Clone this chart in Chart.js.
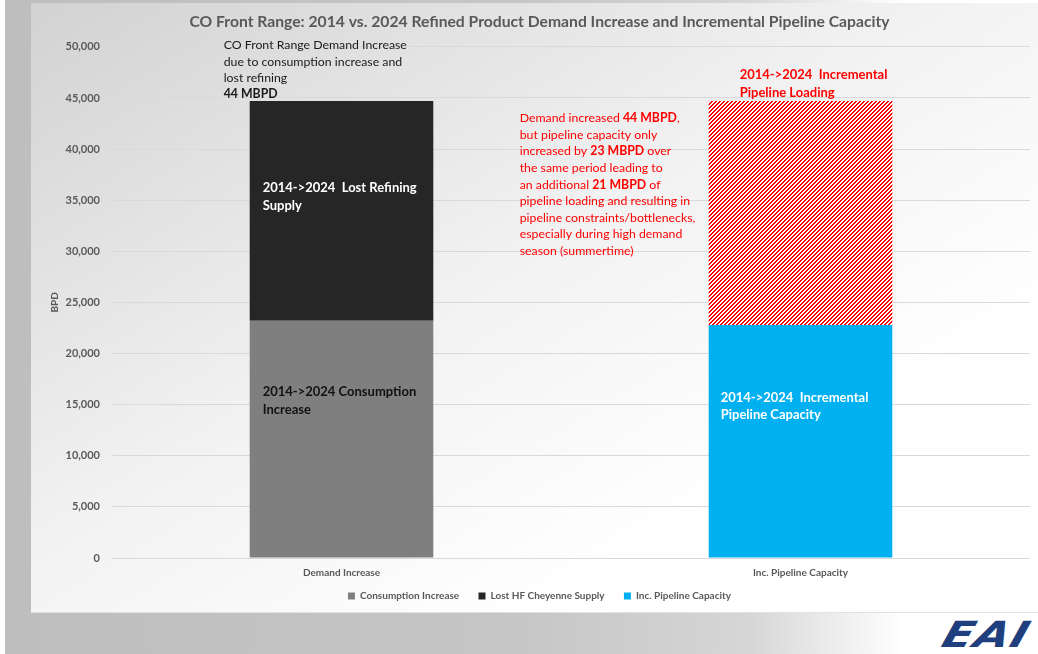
<!DOCTYPE html>
<html>
<head>
<meta charset="utf-8">
<title>CO Front Range Demand vs Pipeline Capacity</title>
<script src="https://cdn.jsdelivr.net/npm/chart.js@4.4.1/dist/chart.umd.min.js"></script>
<style>
    html, body { margin: 0; padding: 0; width: 1038px; height: 654px; overflow: hidden; background: #fff; }
    #frame {
        position: absolute; left: 5px; top: 0; width: 1033px; height: 654px;
        background: linear-gradient(to right, #bebebe 0%, #c6c6c6 50%, #d6d6d6 72%, #ffffff 87%);
    }
    #panel {
        position: absolute; left: 31px; top: 3px; width: 1007px; height: 609px;
        background: linear-gradient(to bottom right, #d2d2d2 0%, #f2f2f2 45%, #ffffff 75%);
        border-bottom: 1px solid #e2e2e2;
    }
    #logo {
        position: absolute; left: 950px; top: 614px;
        font: italic 900 36px "DejaVu Sans", sans-serif; letter-spacing: 1px;
        color: #1f3f7e; transform: scaleX(1.25) skewX(-14deg); transform-origin: left top;
    }
    #grafico { position: absolute; left: 0; top: 0; }
</style>
</head>
<body>
<div id="frame"></div>
<div id="panel"></div>
<div id="logo">EAI</div>
<canvas id="grafico" width="1038" height="654"></canvas>

<script>
// ------------------------------------------------------------
// Dados (BPD)
// ------------------------------------------------------------
const categorias = ["Demand Increase", "Inc. Pipeline Capacity"];
const consumoIncremento = [23200, null];
const refinoPerdido = [21500, null];
const capacidadeDuto = [null, 22800];
const cargaDuto = [null, 21900];
const eixoMax = 50000;
const eixoPasso = 5000;

const FONTE = "Lato, 'Open Sans', sans-serif";
const CINZA_TXT = "#595959";
const VERMELHO = "#ff0000";

const canvas = document.getElementById("grafico");
const ctx = canvas.getContext("2d");

// hachura vermelha/branca em diagonal
function hachura() {
    const c = document.createElement("canvas");
    c.width = 4; c.height = 4;
    const g = c.getContext("2d");
    g.fillStyle = "#ffffff";
    g.fillRect(0, 0, 4, 4);
    g.fillStyle = VERMELHO;
    for (let x = 0; x < 4; x++)
        for (let y = 0; y < 4; y++)
            if ((x + y) % 4 < 2) g.fillRect(x, y, 1, 1);
    return ctx.createPattern(c, "repeat");
}

// escreve uma linha com trechos normais e em negrito
function linhaRica(c, partes, x, y, tam, cor) {
    let cx = x;
    partes.forEach(p => {
        const txt = typeof p === "string" ? p : p.b;
        c.font = (typeof p === "string" ? "" : "bold ") + tam + "px " + FONTE;
        c.fillStyle = cor;
        c.fillText(txt, cx, y);
        cx += c.measureText(txt).width;
    });
}

// caixas de texto ancoradas nas barras / escala
const notas = [
    { barra: 0, dx: -26, valor: 50150, lh: 16.3, tam: 12.3, cor: "#1a1a1a", linhas: [
        ["CO Front Range Demand Increase"],
        ["due to consumption increase and"],
        ["lost refining"],
        [{ b: "44 MBPD" }]
    ]},
    { barra: 0, dx: 13, valor: 36250, lh: 18, tam: 13, cor: "#ffffff", linhas: [
        [{ b: "2014->2024  Lost Refining" }],
        [{ b: "Supply" }]
    ]},
    { barra: 0, dx: 13, valor: 16250, lh: 18, tam: 13, cor: "#111111", linhas: [
        [{ b: "2014->2024 Consumption" }],
        [{ b: "Increase" }]
    ]},
    { barra: 1, dx: 12, valor: 15660, lh: 17, tam: 13, cor: "#ffffff", linhas: [
        [{ b: "2014->2024  Incremental" }],
        [{ b: "Pipeline Capacity" }]
    ]},
    { barra: 1, dx: 31, valor: 47230, lh: 18, tam: 13, cor: VERMELHO, linhas: [
        [{ b: "2014->2024  Incremental" }],
        [{ b: "Pipeline Loading" }]
    ]},
    { barra: 1, dx: -189, valor: 43010, lh: 16.6, tam: 12.3, cor: VERMELHO, linhas: [
        ["Demand increased ", { b: "44 MBPD" }, ","],
        ["but pipeline capacity only"],
        ["increased by ", { b: "23 MBPD" }, " over"],
        ["the same period leading to"],
        ["an additional ", { b: "21 MBPD" }, " of"],
        ["pipeline loading and resulting in"],
        ["pipeline constraints/bottlenecks,"],
        ["especially during high demand"],
        ["season (summertime)"]
    ]}
];

const pluginNotas = {
    id: "notas",
    afterDatasetsDraw(chart) {
        const c = chart.ctx;
        const y = chart.scales.y;
        const demanda = chart.getDatasetMeta(0).data[0];
        const duto = chart.getDatasetMeta(2).data[1];
        c.save();
        c.textBaseline = "middle";
        c.textAlign = "left";
        notas.forEach(n => {
            const el = n.barra === 0 ? demanda : duto;
            const x0 = el.x - el.width / 2 + n.dx;
            const y0 = y.getPixelForValue(n.valor);
            n.linhas.forEach((l, i) => linhaRica(c, l, x0, y0 + i * n.lh, n.tam, n.cor));
        });
        c.restore();
    }
};

// legenda padrão, com um respiro extra entre os itens
const legendaPadrao = Chart.defaults.plugins.legend.labels.generateLabels;

new Chart(ctx, {
    type: "bar",
    data: {
        labels: categorias,
        datasets: [
            { label: "Consumption Increase", data: consumoIncremento, backgroundColor: "#7f7f7f" },
            { label: "Lost HF Cheyenne Supply", data: refinoPerdido, backgroundColor: "#262626" },
            { label: "Inc. Pipeline Capacity", data: capacidadeDuto, backgroundColor: "#00b0f0" },
            { label: "Incremental Pipeline Loading", data: cargaDuto, backgroundColor: hachura() }
        ]
    },
    options: {
        responsive: false,
        animation: false,
        devicePixelRatio: 1,
        layout: { padding: { left: 49, right: 8, top: 13, bottom: 43 } },
        datasets: { bar: { categoryPercentage: 1, barPercentage: 0.4 } },
        scales: {
            x: {
                stacked: true,
                grid: { display: false, drawTicks: false },
                border: { display: false },
                ticks: { color: CINZA_TXT, font: { family: FONTE, size: 10, weight: "bold" }, padding: 9 },
                afterFit: s => { s.height = 21; }
            },
            y: {
                stacked: true,
                min: 0,
                max: eixoMax,
                grid: { color: "#d9d9d9", drawTicks: false },
                border: { display: false },
                ticks: {
                    stepSize: eixoPasso,
                    padding: 12,
                    color: CINZA_TXT,
                    font: { family: FONTE, size: 11, weight: "bold" },
                    callback: v => v.toLocaleString("en-US")
                },
                title: {
                    display: true,
                    text: "BPD",
                    color: CINZA_TXT,
                    font: { family: FONTE, size: 10, weight: "bold" },
                    padding: 0
                },
                afterFit: s => { s.width = 63; }
            }
        },
        plugins: {
            title: {
                display: true,
                text: "CO Front Range: 2014 vs. 2024 Refined Product Demand Increase and Incremental Pipeline Capacity",
                color: CINZA_TXT,
                font: { family: FONTE, size: 15.7, weight: "bold" },
                padding: { top: 0, bottom: 15 }
            },
            legend: {
                position: "bottom",
                labels: {
                    filter: item => item.datasetIndex !== 3,
                    generateLabels: chart => legendaPadrao(chart).map((it, i, arr) => {
                        if (i < arr.length - 2) it.text += "   ";
                        return it;
                    }),
                    boxWidth: 7,
                    boxHeight: 7,
                    padding: 12,
                    color: CINZA_TXT,
                    font: { family: FONTE, size: 10, weight: "bold" }
                }
            },
            tooltip: { enabled: false }
        }
    },
    plugins: [pluginNotas]
});
</script>
</body>
</html>
